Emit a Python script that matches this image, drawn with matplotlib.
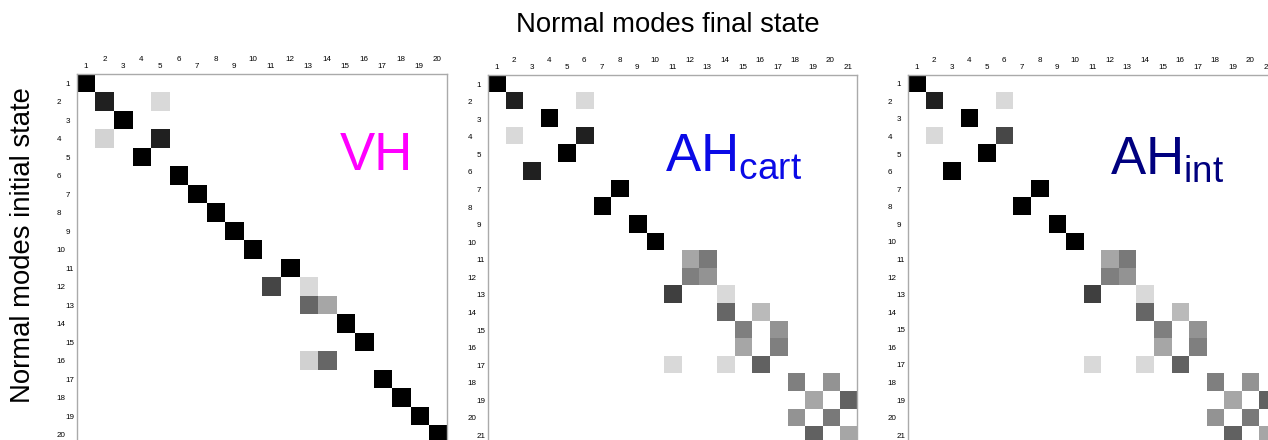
import numpy as np
import matplotlib
matplotlib.use("Agg")
import matplotlib.pyplot as plt
from matplotlib.colors import LinearSegmentedColormap

plt.rcParams['font.family'] = ['Liberation Sans', 'DejaVu Sans']
plt.rcParams['mathtext.fontset'] = 'custom'
plt.rcParams['mathtext.rm'] = 'Liberation Sans'
plt.rcParams['mathtext.it'] = 'Liberation Sans:italic'

# overlap matrices: row = initial mode, col = final mode, value = darkness (0 white .. 1 black)
vh_size = 20
vh_rows = [1, 2, 2, 3, 4, 4, 5, 6, 7, 8, 9, 10, 11, 12, 12, 13, 13, 14, 15, 16, 16, 17, 18, 19, 20]
vh_cols = [1, 2, 5, 3, 2, 5, 4, 6, 7, 8, 9, 10, 12, 11, 13, 13, 14, 15, 16, 13, 14, 17, 18, 19, 20]
vh_vals = [1.0, 0.87, 0.15, 1.0, 0.17, 0.87, 1.0, 1.0, 1.0, 1.0, 1.0, 1.0, 1.0, 0.73, 0.15,
           0.6, 0.35, 1.0, 1.0, 0.18, 0.6, 1.0, 1.0, 1.0, 1.0]

cart_size = 21
cart_rows = [1, 2, 2, 3, 4, 4, 5, 6, 7, 8, 9, 10, 11, 11, 12, 12, 13, 13, 14, 14, 15, 15,
             16, 16, 17, 17, 17, 18, 18, 19, 19, 20, 20, 21, 21]
cart_cols = [1, 2, 6, 4, 2, 6, 5, 3, 8, 7, 9, 10, 12, 13, 12, 13, 11, 14, 14, 16, 15, 17,
             15, 17, 11, 14, 16, 18, 20, 19, 21, 18, 20, 19, 21]
cart_vals = [1.0, 0.87, 0.15, 1.0, 0.15, 0.87, 1.0, 0.87, 1.0, 1.0, 1.0, 1.0, 0.35, 0.52,
             0.5, 0.42, 0.75, 0.15, 0.6, 0.27, 0.5, 0.42, 0.35, 0.5, 0.15, 0.15, 0.62,
             0.5, 0.42, 0.35, 0.62, 0.42, 0.52, 0.62, 0.35]

int_size = 21
int_rows = cart_rows
int_cols = cart_cols
int_vals = [1.0, 0.87, 0.15, 1.0, 0.15, 0.72, 1.0, 1.0, 1.0, 1.0, 1.0, 1.0, 0.35, 0.52,
            0.5, 0.42, 0.75, 0.15, 0.6, 0.27, 0.5, 0.42, 0.35, 0.5, 0.15, 0.15, 0.62,
            0.5, 0.42, 0.35, 0.62, 0.42, 0.52, 0.62, 0.35]

panel_labels = ['VH', r'AH$_{\mathrm{cart}}$', r'AH$_{\mathrm{int}}$']
panel_colors = ['#ff00ff', '#0a0ae6', '#00007f']

cmap = LinearSegmentedColormap.from_list('wb', ['white', 'black'])


def build_matrix(n, rows, cols, vals):
    m = np.zeros((n, n))
    for r, c, v in zip(rows, cols, vals):
        m[r - 1, c - 1] = v
    return m


def draw_panel(ax, mat, label, color, lx, ly):
    n = mat.shape[0]
    ax.imshow(mat, cmap=cmap, vmin=0, vmax=1, interpolation='nearest',
              extent=(0.5, n + 0.5, n + 0.5, 0.5), aspect='auto')
    ax.set_xlim(0.5, n + 0.5)
    ax.set_ylim(n + 0.5, 0.5)

    # odd labels close to the axis, even ones staggered further out
    odd = list(range(1, n + 1, 2))
    even = list(range(2, n + 1, 2))
    ax.xaxis.tick_top()
    ax.set_xticks(odd)
    ax.set_xticklabels([str(i) for i in odd])
    ax.set_xticks(even, minor=True)
    ax.set_xticklabels([str(i) for i in even], minor=True)
    ax.set_yticks(odd)
    ax.set_yticklabels([str(i) for i in odd])
    ax.set_yticks(even, minor=True)
    ax.set_yticklabels([str(i) for i in even], minor=True)

    ax.tick_params(axis='x', which='major', length=0, pad=3, labelsize=5.8,
                   top=True, labeltop=True, bottom=False, labelbottom=False)
    ax.tick_params(axis='x', which='minor', length=0, pad=8, labelsize=5.8,
                   top=True, labeltop=True, bottom=False, labelbottom=False)
    ax.tick_params(axis='y', which='major', length=0, pad=8, labelsize=5.8)
    ax.tick_params(axis='y', which='minor', length=0, pad=14.5, labelsize=5.8)
    for t in ax.get_yticklabels(which='both'):
        t.set_horizontalalignment('left')

    for side in ['top', 'left', 'right', 'bottom']:
        ax.spines[side].set_color('#aaaaaa')
        ax.spines[side].set_linewidth(1)

    ax.text(lx, ly, label, transform=ax.transAxes, color=color, fontsize=38,
            ha='left', va='baseline')


fig = plt.figure(figsize=(12.68, 4.4), dpi=100)
W, H = 1268.0, 440.0

# panel placement in pixels (left, top, size); the figure crops the bottom/right edges
boxes = [(76.7, 74.0, 370.0), (487.7, 75.3, 369.0), (907.7, 75.0, 369.0)]
mats = [build_matrix(vh_size, vh_rows, vh_cols, vh_vals),
        build_matrix(cart_size, cart_rows, cart_cols, cart_vals),
        build_matrix(int_size, int_rows, int_cols, int_vals)]
label_pos = [(0.712, 0.74), (0.48, 0.743), (0.548, 0.734)]

for (left, top, size), mat, lab, col, (lx, ly) in zip(boxes, mats, panel_labels, panel_colors, label_pos):
    ax = fig.add_axes([left / W, (H - top - size) / H, size / W, size / H])
    draw_panel(ax, mat, lab, col, lx, ly)

fig.text(667.5 / W, 1 - 25 / H, 'Normal modes final state', fontsize=19.8,
         ha='center', va='center')
fig.text(23 / W, 1 - 245 / H, 'Normal modes initial state', fontsize=19.8,
         rotation=90, ha='center', va='center')

fig.savefig('out.png', dpi=100)
